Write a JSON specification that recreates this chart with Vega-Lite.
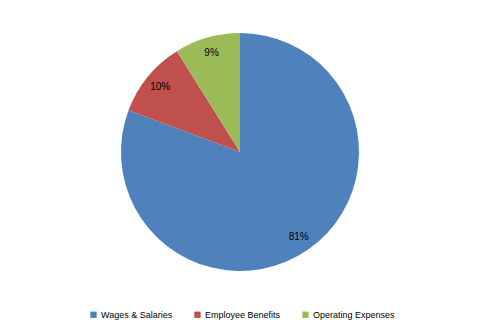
{
  "$schema": "https://vega.github.io/schema/vega-lite/v6.json",
  "width": 480,
  "height": 304,
  "autosize": "none",
  "padding": {"left": 0, "top": 0, "right": 0, "bottom": 29},
  "background": "white",
  "data": {
    "values": [
      {"category": "Wages & Salaries", "share": 0.807, "order": 1},
      {"category": "Employee Benefits", "share": 0.104, "order": 2},
      {"category": "Operating Expenses", "share": 0.089, "order": 3}
    ]
  },
  "encoding": {
    "theta": {"field": "share", "type": "quantitative", "stack": true},
    "order": {"field": "order", "type": "quantitative"}
  },
  "layer": [
    {
      "mark": {"type": "arc", "outerRadius": 119, "stroke": null},
      "encoding": {
        "color": {
          "field": "category",
          "type": "nominal",
          "sort": ["Wages & Salaries", "Employee Benefits", "Operating Expenses"],
          "scale": {
            "domain": ["Wages & Salaries", "Employee Benefits", "Operating Expenses"],
            "range": ["#4F81BD", "#C0504D", "#9BBB59"]
          },
          "legend": {
            "title": null,
            "orient": "none",
            "direction": "horizontal",
            "legendX": 89,
            "legendY": 310,
            "symbolType": "square",
            "symbolSize": 40,
            "symbolStrokeWidth": 0,
            "labelFont": "Liberation Sans",
            "labelFontSize": 9,
            "labelColor": "#000000",
            "labelOffset": 3,
            "columnPadding": 20
          }
        }
      }
    },
    {
      "mark": {"type": "text", "radius": 103, "font": "Liberation Sans", "fontSize": 10, "color": "#000000"},
      "encoding": {
        "text": {"field": "share", "type": "quantitative", "format": ".0%"}
      }
    }
  ]
}
